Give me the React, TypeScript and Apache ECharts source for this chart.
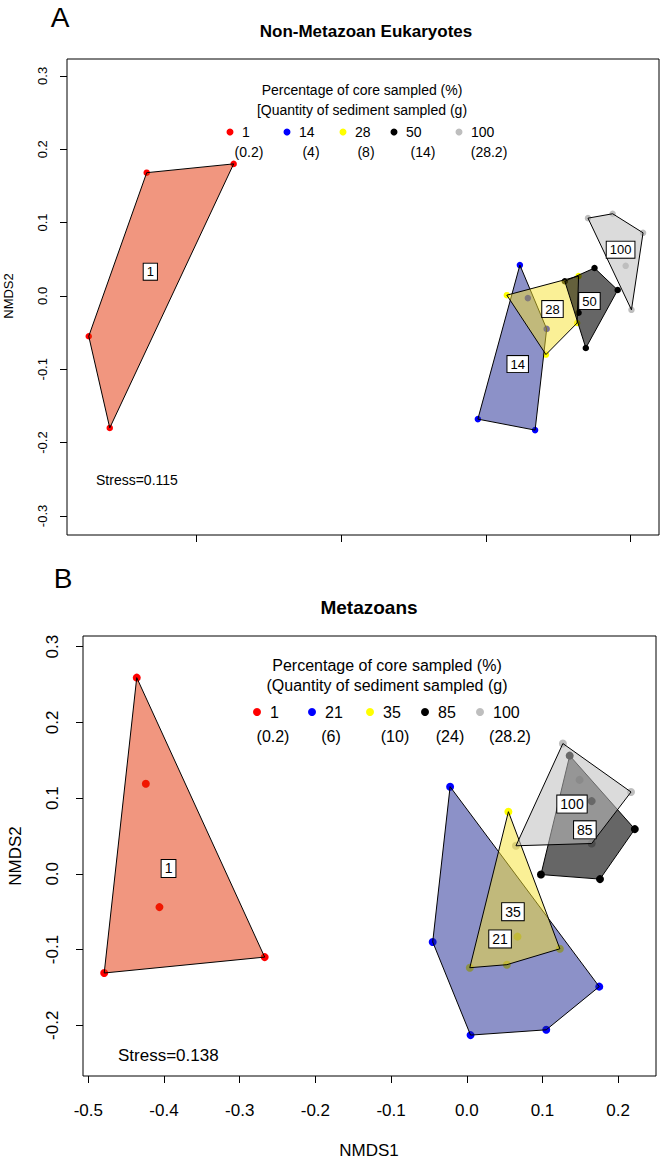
import React, { useEffect, useRef } from "react";
import * as echarts from "echarts";

// ---------- data ----------
const groupsA = ["1", "14", "28", "50", "100"];
const quantA = ["(0.2)", "(4)", "(8)", "(14)", "(28.2)"];
const groupsB = ["1", "21", "35", "85", "100"];
const quantB = ["(0.2)", "(6)", "(10)", "(24)", "(28.2)"];

// Panel A (Non-Metazoan Eukaryotes) NMDS1/NMDS2 scores
const a1 = [[-0.468, 0.168], [-0.348, 0.18], [-0.548, -0.055], [-0.519, -0.18]];
const a14 = [[0.047, 0.042], [0.058, -0.003], [0.084, -0.045], [-0.011, -0.168], [0.068, -0.183]];
const a28 = [[0.029, 0.001], [0.128, 0.027], [0.126, -0.037], [0.083, -0.08]];
const a50 = [[0.109, 0.02], [0.15, 0.038], [0.182, 0.008], [0.138, -0.071], [0.128, -0.023]];
const a100 = [[0.141, 0.106], [0.175, 0.112], [0.217, 0.086], [0.201, -0.019], [0.193, 0.041]];
const labelPosA = [[-0.463, 0.033], [0.044, -0.093], [0.092, -0.018], [0.143, -0.007], [0.186, 0.063]];

// Panel B (Metazoans)
const b1 = [[-0.436, 0.259], [-0.424, 0.119], [-0.406, -0.044], [-0.267, -0.11], [-0.479, -0.131]];
const b21 = [[-0.022, 0.115], [-0.045, -0.09], [0.005, -0.213], [0.105, -0.206], [0.175, -0.149]];
const b35 = [[0.055, 0.082], [0.004, -0.124], [0.053, -0.12], [0.123, -0.099], [0.067, -0.083]];
const b85 = [[0.136, 0.156], [0.222, 0.059], [0.176, -0.007], [0.098, -0.001], [0.165, 0.096]];
const b100 = [[0.127, 0.172], [0.217, 0.108], [0.165, 0.04], [0.065, 0.037], [0.149, 0.124]];
const labelPosB = [[-0.394, 0.007], [0.044, -0.086], [0.061, -0.05], [0.156, 0.058], [0.139, 0.092]];

const stressA = "Stress=0.115";
const stressB = "Stress=0.138";

const ticksAx = [-0.4, -0.2, 0.0, 0.2];
const ticksAy = [-0.3, -0.2, -0.1, 0.0, 0.1, 0.2, 0.3];
const ticksBx = [-0.5, -0.4, -0.3, -0.2, -0.1, 0.0, 0.1, 0.2];
const ticksBy = [-0.2, -0.1, 0.0, 0.1, 0.2, 0.3];

const rangeAx = [-0.578, 0.239];
const rangeAy = [-0.326, 0.323];
const rangeBx = [-0.507, 0.25];
const rangeBy = [-0.267, 0.314];

// ---------- styles ----------
const FONT = '"Liberation Sans", Arial, Helvetica, sans-serif';
const pointColors = ["#FF0000", "#0000FF", "#FFFF00", "#000000", "#BEBEBE"];
const fillColors = [
  "rgba(227,45,0,0.5)",
  "rgba(25,35,145,0.5)",
  "rgba(245,225,45,0.5)",
  "rgba(0,0,0,0.6)",
  "rgba(190,190,190,0.55)",
];

function convexHull(pts: number[][]): number[][] {
  const p = pts.slice().sort((a, b) => (a[0] === b[0] ? a[1] - b[1] : a[0] - b[0]));
  if (p.length < 3) return p;
  const cross = (o: number[], a: number[], b: number[]) =>
    (a[0] - o[0]) * (b[1] - o[1]) - (a[1] - o[1]) * (b[0] - o[0]);
  const lower: number[][] = [];
  for (const q of p) {
    while (lower.length >= 2 && cross(lower[lower.length - 2], lower[lower.length - 1], q) <= 0) lower.pop();
    lower.push(q);
  }
  const upper: number[][] = [];
  for (let i = p.length - 1; i >= 0; i--) {
    const q = p[i];
    while (upper.length >= 2 && cross(upper[upper.length - 2], upper[upper.length - 1], q) <= 0) upper.pop();
    upper.push(q);
  }
  upper.pop();
  lower.pop();
  return lower.concat(upper);
}

function panelSeries(idx: number, groups: string[], sets: number[][][], labelPos: number[][], symSize: number, labelFont: number) {
  const series: any[] = [];
  sets.forEach((pts, gi) => {
    series.push({
      type: "scatter",
      xAxisIndex: idx,
      yAxisIndex: idx,
      data: pts,
      symbolSize: symSize,
      itemStyle: { color: pointColors[gi], opacity: 1 },
      silent: true,
      z: 2,
    });
  });
  sets.forEach((pts, gi) => {
    const h = convexHull(pts);
    series.push({
      type: "custom",
      xAxisIndex: idx,
      yAxisIndex: idx,
      data: h,
      silent: true,
      z: 3 + gi,
      renderItem: (params: any, api: any) => {
        if (params.dataIndex !== 0) return null;
        const points = h.map((q) => api.coord(q));
        return {
          type: "polygon",
          shape: { points },
          style: { fill: fillColors[gi], stroke: "#000", lineWidth: 1 },
        };
      },
    });
  });
  series.push({
    type: "custom",
    xAxisIndex: idx,
    yAxisIndex: idx,
    data: labelPos,
    silent: true,
    z: 20,
    renderItem: (params: any, api: any) => {
      const i = params.dataIndex;
      const c = api.coord(labelPos[i]);
      return {
        type: "text",
        x: c[0],
        y: c[1],
        style: {
          text: groups[i],
          font: `${labelFont}px ${FONT}`,
          fill: "#000",
          align: "center",
          verticalAlign: "middle",
          backgroundColor: "#ffffff",
          borderColor: "#000000",
          borderWidth: 1,
          padding: [2, 3, 1, 3],
        },
      };
    },
  });
  return series;
}

function txt(text: string, x: number, y: number, font: string, align = "center", rotation = 0) {
  return {
    type: "text",
    x,
    y,
    rotation,
    silent: true,
    style: {
      text,
      font,
      fill: "#000",
      align,
      verticalAlign: "middle",
      textAlign: align,
      textVerticalAlign: "middle",
    },
  };
}

function legendGraphics(
  groups: string[],
  quants: string[],
  line1: string,
  line2: string,
  cx: number,
  yTitle: number,
  lineGap: number,
  dotX: number[],
  rowY: number,
  qX: number[],
  qY: number,
  fontSize: number,
  r: number,
  labelOffset: number
) {
  const els: any[] = [];
  const f = `${fontSize}px ${FONT}`;
  els.push(txt(line1, cx, yTitle, f));
  els.push(txt(line2, cx, yTitle + lineGap, f));
  groups.forEach((g, i) => {
    els.push({ type: "circle", silent: true, shape: { cx: dotX[i], cy: rowY, r }, style: { fill: pointColors[i] } });
    els.push(txt(g, dotX[i] + labelOffset, rowY, f, "left"));
    els.push(txt(quants[i], qX[i], qY, f));
  });
  return els;
}

const fmt = (v: number) => v.toFixed(1);

function axisX(idx: number, range: number[], ticks: number[], showLabels: boolean, fontSize: number, margin: number) {
  return {
    type: "value",
    gridIndex: idx,
    min: range[0],
    max: range[1],
    axisLine: { show: false, onZero: false },
    axisTick: { show: true, inside: false, length: 7, customValues: ticks, lineStyle: { color: "#000", width: 1 } },
    axisLabel: {
      show: showLabels,
      customValues: ticks,
      formatter: fmt,
      color: "#000",
      fontFamily: FONT,
      fontSize,
      margin,
    },
    splitLine: { show: false },
  };
}

function axisY(idx: number, range: number[], ticks: number[], fontSize: number, margin: number) {
  return {
    type: "value",
    gridIndex: idx,
    min: range[0],
    max: range[1],
    axisLine: { show: false, onZero: false },
    axisTick: { show: true, inside: false, length: 7, customValues: ticks, lineStyle: { color: "#000", width: 1 } },
    axisLabel: {
      show: true,
      customValues: ticks,
      formatter: fmt,
      rotate: 90,
      color: "#000",
      fontFamily: FONT,
      fontSize,
      margin,
    },
    splitLine: { show: false },
  };
}

export default function App() {
  const ref = useRef<HTMLDivElement>(null);
  useEffect(() => {
    if (!ref.current) return;
    const chart = echarts.init(ref.current, null, { renderer: "svg" });
    const graphic: any[] = [
      txt("A", 60, 17, `28px ${FONT}`),
      txt("Non-Metazoan Eukaryotes", 366, 31, `bold 17px ${FONT}`),
      txt("B", 63, 578, `28px ${FONT}`),
      txt("Metazoans", 369, 607, `bold 19px ${FONT}`),
      txt("NMDS2", 8, 296, `13px ${FONT}`, "center", Math.PI / 2),
      txt("NMDS2", 15, 856, `17px ${FONT}`, "center", Math.PI / 2),
      txt("NMDS1", 369, 1150, `17px ${FONT}`),
      txt(stressA, 96, 480, `14px ${FONT}`, "left"),
      txt(stressB, 118, 1055, `17px ${FONT}`, "left"),
      ...legendGraphics(
        groupsA,
        quantA,
        "Percentage of core sampled (%)",
        "[Quantity of sediment sampled (g)",
        362,
        90,
        20,
        [230, 287, 343, 394, 459],
        132,
        [249, 311, 366, 423, 489],
        152,
        14,
        3.5,
        12
      ),
      ...legendGraphics(
        groupsB,
        quantB,
        "Percentage of core sampled (%)",
        "(Quantity of sediment sampled (g)",
        387,
        665,
        20,
        [257, 312, 370, 425, 480],
        712,
        [273, 331, 395, 450, 510],
        736,
        16,
        4,
        13
      ),
    ];
    const option: any = {
      animation: false,
      backgroundColor: "#fff",
      grid: [
        { left: 67, top: 59, width: 592, height: 476, show: true, borderColor: "#000", borderWidth: 1, backgroundColor: "transparent" },
        { left: 83, top: 636, width: 573, height: 440, show: true, borderColor: "#000", borderWidth: 1, backgroundColor: "transparent" },
      ],
      xAxis: [axisX(0, rangeAx, ticksAx, false, 13, 10), axisX(1, rangeBx, ticksBx, true, 17, 26)],
      yAxis: [axisY(0, rangeAy, ticksAy, 13, 18), axisY(1, rangeBy, ticksBy, 17, 22)],
      series: [
        ...panelSeries(0, groupsA, [a1, a14, a28, a50, a100], labelPosA, 6.5, 13),
        ...panelSeries(1, groupsB, [b1, b21, b35, b85, b100], labelPosB, 8, 14),
      ],
      graphic,
    };
    chart.setOption(option);
    return () => chart.dispose();
  }, []);
  return (
    <div
      ref={ref}
      style={{ position: "absolute", left: 0, top: 0, width: 666, height: 1160, background: "#fff" }}
    />
  );
}
